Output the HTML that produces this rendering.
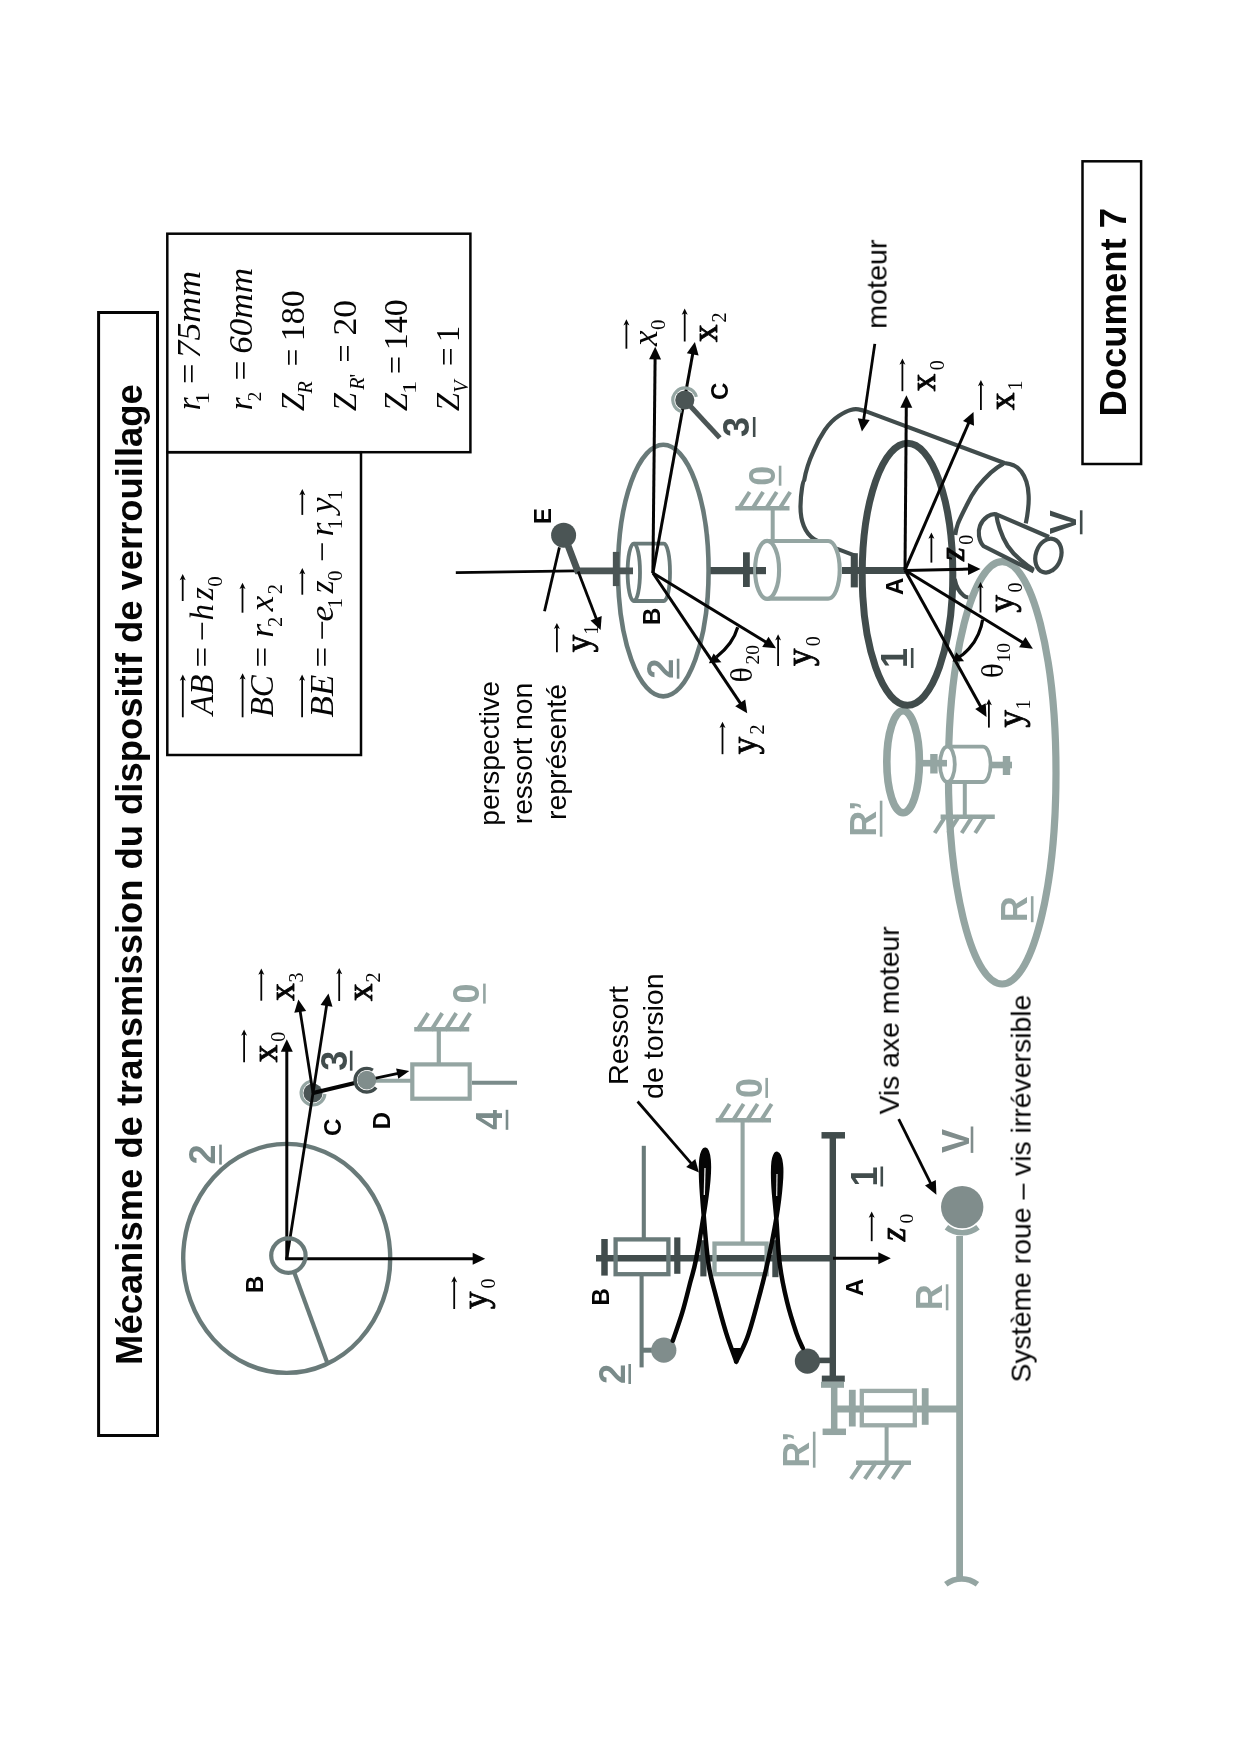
<!DOCTYPE html>
<html><head><meta charset="utf-8"><title>Document 7</title>
<style>html,body{margin:0;padding:0;background:#fff}svg{display:block}</style></head>
<body><svg width="1240" height="1754" viewBox="0 0 1240 1754">
<rect width="1240" height="1754" fill="#ffffff"/>
<g style="opacity:0.999">
<rect x="98.6" y="312.5" width="58.9" height="1123.0" stroke="#050505" stroke-width="3.0" fill="none"/>
<text transform="translate(142.2,1364.9) rotate(-90)" font-family='"Liberation Sans", sans-serif' font-size="36.4" font-weight="bold" font-style="normal" fill="#050505" textLength="980.7" lengthAdjust="spacingAndGlyphs" >Mécanisme de transmission du dispositif de verrouillage</text>
<rect x="1082.5" y="161.3" width="58.6" height="302.7" stroke="#050505" stroke-width="2.5" fill="none"/>
<text transform="translate(1126.2,416.5) rotate(-90)" font-family='"Liberation Sans", sans-serif' font-size="36" font-weight="bold" font-style="normal" fill="#050505" textLength="208.6" lengthAdjust="spacingAndGlyphs" >Document 7</text>
<rect x="167.3" y="233.7" width="303.1" height="218.5" stroke="#050505" stroke-width="2.5" fill="none"/>
<rect x="167.3" y="452.2" width="193.7" height="302.8" stroke="#050505" stroke-width="2.5" fill="none"/>
<g transform="translate(199.6,408.5) rotate(-90)" font-family='"Liberation Serif", serif' fill="#050505"><text x="-1.8" y="0.0" font-size="33" font-style="italic">r</text><text x="4.0" y="9.1" font-size="19" font-style="normal" textLength="12.5" lengthAdjust="spacingAndGlyphs">1</text><text x="24.4" y="0.0" font-size="33" font-style="normal" textLength="20.4" lengthAdjust="spacingAndGlyphs">=</text><text x="50.1" y="0.0" font-size="33" font-style="italic" textLength="87.4" lengthAdjust="spacingAndGlyphs">75mm</text></g>
<g transform="translate(251.7,408.5) rotate(-90)" font-family='"Liberation Serif", serif' fill="#050505"><text x="-1.8" y="0.0" font-size="33" font-style="italic">r</text><text x="7.2" y="9.1" font-size="19" font-style="normal">2</text><text x="28.0" y="0.0" font-size="33" font-style="normal" textLength="20.0" lengthAdjust="spacingAndGlyphs">=</text><text x="54.7" y="0.0" font-size="33" font-style="italic" textLength="85.8" lengthAdjust="spacingAndGlyphs">60mm</text></g>
<g transform="translate(303.8,410.3) rotate(-90)" font-family='"Liberation Serif", serif' fill="#050505"><text x="-1.0" y="0.0" font-size="33" font-style="italic">Z</text><text x="16.8" y="8.5" font-size="20" font-style="italic">R</text><text x="44.0" y="0.0" font-size="33" font-style="normal" textLength="17.5" lengthAdjust="spacingAndGlyphs">=</text><text x="69.1" y="0.0" font-size="33" font-style="normal" textLength="50.8" lengthAdjust="spacingAndGlyphs">180</text></g>
<g transform="translate(355.7,410.3) rotate(-90)" font-family='"Liberation Serif", serif' fill="#050505"><text x="-1.0" y="0.0" font-size="33" font-style="italic">Z</text><text x="20.6" y="8.5" font-size="20" font-style="italic">R</text><text x="32.7" y="8.5" font-size="20" font-style="normal">'</text><text x="47.8" y="0.0" font-size="33" font-style="normal" textLength="18.0" lengthAdjust="spacingAndGlyphs">=</text><text x="74.7" y="0.0" font-size="33" font-style="normal" textLength="35.7" lengthAdjust="spacingAndGlyphs">20</text></g>
<g transform="translate(407.1,410.3) rotate(-90)" font-family='"Liberation Serif", serif' fill="#050505"><text x="-1.0" y="0.0" font-size="33" font-style="italic">Z</text><text x="16.0" y="9.1" font-size="19" font-style="normal" textLength="13.5" lengthAdjust="spacingAndGlyphs">1</text><text x="36.3" y="0.0" font-size="33" font-style="normal" textLength="18.0" lengthAdjust="spacingAndGlyphs">=</text><text x="60.1" y="0.0" font-size="33" font-style="normal" textLength="50.8" lengthAdjust="spacingAndGlyphs">140</text></g>
<g transform="translate(459.1,410.3) rotate(-90)" font-family='"Liberation Serif", serif' fill="#050505"><text x="-1.0" y="0.0" font-size="33" font-style="italic">Z</text><text x="17.6" y="8.5" font-size="20" font-style="italic">V</text><text x="44.1" y="0.0" font-size="33" font-style="normal" textLength="18.8" lengthAdjust="spacingAndGlyphs">=</text><text x="68.0" y="0.0" font-size="33" font-style="normal">1</text></g>
<g transform="translate(213.0,716.0) rotate(-90)" font-family='"Liberation Serif", serif' fill="#050505"><text x="1.0" y="0.0" font-size="33" font-style="italic">AB</text><text x="48.6" y="0.0" font-size="33" font-style="normal" textLength="20.7" lengthAdjust="spacingAndGlyphs">=</text><text x="74.7" y="0.0" font-size="33" font-style="normal" textLength="20.3" lengthAdjust="spacingAndGlyphs">−</text><text x="95.5" y="0.0" font-size="33" font-style="italic">h</text><text x="116.0" y="0.0" font-size="33" font-style="italic">z</text><text x="129.2" y="9.4" font-size="21" font-style="normal">0</text></g>
<g transform="translate(273.3,716.0) rotate(-90)" font-family='"Liberation Serif", serif' fill="#050505"><text x="-1.3" y="0.0" font-size="33" font-style="italic">BC</text><text x="48.6" y="0.0" font-size="33" font-style="normal" textLength="20.7" lengthAdjust="spacingAndGlyphs">=</text><text x="78.2" y="0.0" font-size="33" font-style="italic" textLength="13.8" lengthAdjust="spacingAndGlyphs">r</text><text x="89.0" y="8.6" font-size="20.5" font-style="normal">2</text><text x="104.7" y="0.0" font-size="33" font-style="italic" textLength="15.5" lengthAdjust="spacingAndGlyphs">x</text><text x="121.8" y="8.6" font-size="20.5" font-style="normal">2</text></g>
<g transform="translate(333.1,716.0) rotate(-90)" font-family='"Liberation Serif", serif' fill="#050505"><text x="-1.5" y="0.0" font-size="33" font-style="italic" textLength="42.8" lengthAdjust="spacingAndGlyphs">BE</text><text x="48.6" y="0.0" font-size="33" font-style="normal" textLength="20.7" lengthAdjust="spacingAndGlyphs">=</text><text x="75.5" y="0.0" font-size="33" font-style="normal" textLength="20.4" lengthAdjust="spacingAndGlyphs">−</text><text x="94.5" y="0.0" font-size="33" font-style="italic" textLength="15.9" lengthAdjust="spacingAndGlyphs">e</text><text x="107.8" y="8.7" font-size="20.5" font-style="normal">1</text><text x="122.8" y="0.0" font-size="33" font-style="italic">z</text><text x="135.1" y="9.2" font-size="21" font-style="normal">0</text><text x="154.1" y="0.0" font-size="33" font-style="normal" textLength="20.4" lengthAdjust="spacingAndGlyphs">−</text><text x="179.4" y="0.0" font-size="33" font-style="italic" textLength="13.8" lengthAdjust="spacingAndGlyphs">r</text><text x="186.7" y="8.7" font-size="20.5" font-style="normal">1</text><text x="203.1" y="0.0" font-size="33" font-style="italic" textLength="15.6" lengthAdjust="spacingAndGlyphs">y</text><text x="215.8" y="8.7" font-size="20.5" font-style="normal">1</text></g>
<line x1="182.8" y1="717.3" x2="182.8" y2="677.5" stroke="#050505" stroke-width="1.8" stroke-linecap="butt"/>
<polygon points="182.8,674.5 179.8,680.8 182.8,679.3 185.8,680.8" fill="#050505"/>
<line x1="242.6" y1="717.3" x2="242.6" y2="676.3" stroke="#050505" stroke-width="1.8" stroke-linecap="butt"/>
<polygon points="242.6,673.3 239.6,679.6 242.6,678.1 245.6,679.6" fill="#050505"/>
<line x1="302.1" y1="717.3" x2="302.1" y2="677.5" stroke="#050505" stroke-width="1.8" stroke-linecap="butt"/>
<polygon points="302.1,674.5 299.1,680.8 302.1,679.3 305.1,680.8" fill="#050505"/>
<line x1="182.7" y1="601.0" x2="182.7" y2="577.0" stroke="#050505" stroke-width="1.8" stroke-linecap="butt"/>
<polygon points="182.7,574.0 179.7,580.3 182.7,578.8 185.7,580.3" fill="#050505"/>
<line x1="242.5" y1="612.7" x2="242.5" y2="585.7" stroke="#050505" stroke-width="1.8" stroke-linecap="butt"/>
<polygon points="242.5,582.7 239.5,589.0 242.5,587.5 245.5,589.0" fill="#050505"/>
<line x1="302.3" y1="594.7" x2="302.3" y2="571.0" stroke="#050505" stroke-width="1.8" stroke-linecap="butt"/>
<polygon points="302.3,568.0 299.3,574.3 302.3,572.8 305.3,574.3" fill="#050505"/>
<line x1="302.3" y1="514.9" x2="302.3" y2="492.0" stroke="#050505" stroke-width="1.8" stroke-linecap="butt"/>
<polygon points="302.3,489.0 299.3,495.3 302.3,493.8 305.3,495.3" fill="#050505"/>
<ellipse cx="286.7" cy="1258.4" rx="103.5" ry="114.5" stroke="#697a79" stroke-width="4.4" fill="none"/>
<line x1="294.3" y1="1272.5" x2="327.0" y2="1362.0" stroke="#697a79" stroke-width="4.2" stroke-linecap="butt"/>
<line x1="286.8" y1="1260.1" x2="286.8" y2="1050.7" stroke="#050505" stroke-width="3.0"/>
<polygon points="286.8,1039.2 292.8,1051.7 280.8,1051.7" fill="#050505"/>
<line x1="285.3" y1="1258.7" x2="473.7" y2="1258.7" stroke="#050505" stroke-width="3.0"/>
<polygon points="485.2,1258.7 472.7,1264.7 472.7,1252.7" fill="#050505"/>
<path d="M 324.9 1094.0 A 11.9 11.9 0 1 1 310.9 1081.3" stroke="#94a5a2" stroke-width="3.2" fill="none" />
<circle cx="313.0" cy="1093.0" r="9.6" fill="#4b5555" stroke="none" stroke-width="0"/>
<line x1="286.8" y1="1258.7" x2="313.0" y2="1093.0" stroke="#050505" stroke-width="2.8" stroke-linecap="butt"/>
<line x1="313.0" y1="1093.0" x2="326.7" y2="1004.9" stroke="#050505" stroke-width="2.8"/>
<polygon points="328.5,993.5 332.5,1006.8 320.6,1004.9" fill="#050505"/>
<line x1="313.0" y1="1093.0" x2="300.1" y2="1010.9" stroke="#050505" stroke-width="2.8"/>
<polygon points="298.3,999.5 306.2,1010.9 294.3,1012.8" fill="#050505"/>
<circle cx="288.4" cy="1255.6" r="17.2" fill="none" stroke="#697a79" stroke-width="4.2"/>
<line x1="374.0" y1="1080.8" x2="412.0" y2="1080.8" stroke="#94a5a2" stroke-width="4" stroke-linecap="butt"/>
<line x1="313.0" y1="1093.0" x2="356.8" y2="1082.5" stroke="#050505" stroke-width="4.2" stroke-linecap="butt"/>
<path d="M 372.9 1070.1 A 11.8 11.8 0 1 0 376.1 1087.5" stroke="#414c4c" stroke-width="3.4" fill="none" />
<circle cx="366.8" cy="1080.2" r="9.4" fill="#808d8c" stroke="none" stroke-width="0"/>
<line x1="375.8" y1="1078.2" x2="398.2" y2="1073.4" stroke="#050505" stroke-width="2.8"/>
<polygon points="409.3,1071.0 398.3,1078.8 396.1,1068.4" fill="#050505"/>
<rect x="412.3" y="1064.4" width="57.4" height="34.3" stroke="#94a5a2" stroke-width="4.2" fill="none"/>
<line x1="472.0" y1="1082.7" x2="517.0" y2="1082.7" stroke="#7a8b8a" stroke-width="4.1" stroke-linecap="butt"/>
<line x1="438.8" y1="1063.0" x2="438.8" y2="1030.0" stroke="#94a5a2" stroke-width="4.2" stroke-linecap="butt"/>
<line x1="414.2" y1="1029.3" x2="469.2" y2="1029.3" stroke="#94a5a2" stroke-width="4.6" stroke-linecap="butt"/>
<line x1="417.2" y1="1030.3" x2="428.2" y2="1013.1" stroke="#94a5a2" stroke-width="4.0" stroke-linecap="butt"/>
<line x1="431.2" y1="1030.3" x2="442.2" y2="1013.1" stroke="#94a5a2" stroke-width="4.0" stroke-linecap="butt"/>
<line x1="445.2" y1="1030.3" x2="456.2" y2="1013.1" stroke="#94a5a2" stroke-width="4.0" stroke-linecap="butt"/>
<line x1="459.2" y1="1030.3" x2="470.2" y2="1013.1" stroke="#94a5a2" stroke-width="4.0" stroke-linecap="butt"/>
<g transform="translate(215.3,1164.6) rotate(-90)"><text font-family='"Liberation Sans", sans-serif' font-size="36" font-weight="bold" fill="#7a8b8a">2</text><rect x="0" y="3.9" width="20.0" height="2.6" fill="#7a8b8a"/></g>
<g transform="translate(346.5,1070.7) rotate(-90)"><text font-family='"Liberation Sans", sans-serif' font-size="36" font-weight="bold" fill="#414c4c">3</text><rect x="0" y="3.4" width="20.0" height="2.6" fill="#414c4c"/></g>
<g transform="translate(479.4,1003.6) rotate(-90)"><text font-family='"Liberation Sans", sans-serif' font-size="36" font-weight="bold" fill="#94a5a2">0</text><rect x="0" y="3.7" width="20.0" height="2.6" fill="#94a5a2"/></g>
<g transform="translate(501.8,1129.8) rotate(-90)"><text font-family='"Liberation Sans", sans-serif' font-size="36" font-weight="bold" fill="#7a8b8a">4</text><rect x="0" y="3.9" width="20.0" height="2.6" fill="#7a8b8a"/></g>
<text transform="translate(262.5,1293.0) rotate(-90)" font-family='"Liberation Sans", sans-serif' font-size="24" font-weight="bold" font-style="normal" fill="#050505" >B</text>
<text transform="translate(340.8,1136.0) rotate(-90)" font-family='"Liberation Sans", sans-serif' font-size="24" font-weight="bold" font-style="normal" fill="#050505" >C</text>
<text transform="translate(390.0,1129.2) rotate(-90)" font-family='"Liberation Sans", sans-serif' font-size="24" font-weight="bold" font-style="normal" fill="#050505" >D</text>
<g transform="translate(276.9,1062.3) rotate(-90)"><text font-family='"Liberation Serif", serif' font-size="35" font-weight="normal" font-style="normal" fill="#050505" stroke="#050505" stroke-width="0.9" stroke-linejoin="round">x</text><text x="20.5" y="8" font-family='"Liberation Serif", serif' font-size="20" fill="#050505">0</text><line x1="0.0" y1="-32.8" x2="29.8" y2="-32.8" stroke="#050505" stroke-width="1.8"/><polygon points="32.8,-32.8 26.6,-35.8 28.2,-32.8 26.6,-29.799999999999997" fill="#050505"/></g>
<g transform="translate(294.0,1000.7) rotate(-90)"><text font-family='"Liberation Serif", serif' font-size="35" font-weight="normal" font-style="normal" fill="#050505" stroke="#050505" stroke-width="0.9" stroke-linejoin="round">x</text><text x="18.2" y="9.1" font-family='"Liberation Serif", serif' font-size="20" fill="#050505">3</text><line x1="0.0" y1="-32.7" x2="29.1" y2="-32.7" stroke="#050505" stroke-width="1.8"/><polygon points="32.1,-32.7 25.9,-35.7 27.5,-32.7 25.9,-29.700000000000003" fill="#050505"/></g>
<g transform="translate(371.9,1001.0) rotate(-90)"><text font-family='"Liberation Serif", serif' font-size="35" font-weight="normal" font-style="normal" fill="#050505" stroke="#050505" stroke-width="0.9" stroke-linejoin="round">x</text><text x="18.6" y="8.5" font-family='"Liberation Serif", serif' font-size="20" fill="#050505">2</text><line x1="0.0" y1="-32.7" x2="29.9" y2="-32.7" stroke="#050505" stroke-width="1.8"/><polygon points="32.9,-32.7 26.7,-35.7 28.3,-32.7 26.7,-29.700000000000003" fill="#050505"/></g>
<g transform="translate(487.0,1309.0) rotate(-90)"><text font-family='"Liberation Serif", serif' font-size="35" font-weight="normal" font-style="normal" fill="#050505" stroke="#050505" stroke-width="0.9" stroke-linejoin="round">y</text><text x="20.5" y="8" font-family='"Liberation Serif", serif' font-size="20" fill="#050505">0</text><line x1="0.0" y1="-32.8" x2="29.8" y2="-32.8" stroke="#050505" stroke-width="1.8"/><polygon points="32.8,-32.8 26.6,-35.8 28.2,-32.8 26.6,-29.799999999999997" fill="#050505"/></g>
<ellipse cx="1002.2" cy="772.8" rx="53.8" ry="211.2" stroke="#94a5a2" stroke-width="7.2" fill="none"/>
<ellipse cx="903.1" cy="761.8" rx="16.3" ry="51.0" stroke="#94a5a2" stroke-width="7.6" fill="none"/>
<line x1="919.0" y1="763.2" x2="946.0" y2="763.2" stroke="#94a5a2" stroke-width="6.6" stroke-linecap="butt"/>
<line x1="933.9" y1="754.0" x2="933.9" y2="773.5" stroke="#94a5a2" stroke-width="7.4" stroke-linecap="butt"/>
<path d="M 947.4 746.6 L 983 746.6 A 7.6 17.7 0 0 1 983 782 L 947.4 782" stroke="#94a5a2" stroke-width="3.8" fill="#fff" />
<ellipse cx="947.4" cy="764.3" rx="7.4" ry="17.7" stroke="#94a5a2" stroke-width="3.8" fill="#fff"/>
<line x1="940.0" y1="763.2" x2="947.0" y2="763.2" stroke="#94a5a2" stroke-width="6.6" stroke-linecap="butt"/>
<line x1="992.0" y1="765.0" x2="1012.0" y2="765.0" stroke="#94a5a2" stroke-width="6.6" stroke-linecap="butt"/>
<line x1="1006.5" y1="756.0" x2="1006.5" y2="775.0" stroke="#94a5a2" stroke-width="7.4" stroke-linecap="butt"/>
<line x1="964.8" y1="782.2" x2="964.8" y2="816.5" stroke="#94a5a2" stroke-width="4.0" stroke-linecap="butt"/>
<line x1="940.6" y1="816.8" x2="994.8" y2="816.8" stroke="#94a5a2" stroke-width="4.6" stroke-linecap="butt"/>
<line x1="945.7" y1="815.8" x2="934.7" y2="833.0" stroke="#94a5a2" stroke-width="4.0" stroke-linecap="butt"/>
<line x1="959.2" y1="815.8" x2="948.2" y2="833.0" stroke="#94a5a2" stroke-width="4.0" stroke-linecap="butt"/>
<line x1="972.7" y1="815.8" x2="961.7" y2="833.0" stroke="#94a5a2" stroke-width="4.0" stroke-linecap="butt"/>
<line x1="986.2" y1="815.8" x2="975.2" y2="833.0" stroke="#94a5a2" stroke-width="4.0" stroke-linecap="butt"/>
<path d="M 855 555.6 L 838.5 549.4 C 829 546 820 542.5 814 539 C 805 533.5 800.3 521 800.5 506 C 800.8 492 803 481 804.2 480.3 C 806 470 809 461 813.2 451.9 C 816 445 820 437 824.8 430 C 829 424 834 419 839 415.8 C 844 412.5 847 411 850.6 410 C 854 409 856 409 858.4 409.4 C 861 409.8 864 410.6 867.4 411.9 L 1004.4 463 C 1008 463.6 1011 464.2 1013.4 465.2 C 1017 466.8 1019.5 469 1021.3 471.5 C 1023.5 474.5 1025.3 478 1026.4 481.6 C 1027.8 486 1028.4 490 1028.6 495.2 C 1028.9 500 1028.6 505 1028 509.8 C 1027.5 514.5 1026.8 519 1025.8 523.4" stroke="#414c4c" stroke-width="4.2" fill="none" stroke-linejoin="round"/>
<path d="M 1003.5 463.6 C 999 466 995 469 990.8 472.6 C 986 477 981.5 482 977.3 487.3 C 973 493 969.3 499.5 966 506.5 C 963 512.5 960.2 518 958 523.4 C 956.5 527.5 955.7 531 955.2 535" stroke="#414c4c" stroke-width="4.2" fill="none" />
<path d="M 954.6 579 C 955.4 583 956.5 586.3 958 588.9 C 959.6 591.7 961.5 594 963.7 595.6 C 965 596.6 966.3 597.1 968.2 597.5" stroke="#414c4c" stroke-width="4.2" fill="none" />
<path d="M 1049 537 L 996.5 514.4 C 993 513.6 990 514.8 987.4 516.6 C 984 519 981.6 522 980.1 525.6 C 978.8 529 978.4 532.5 979 535.8 C 979.7 540 981 543.5 983.5 546 L 1033.7 571.4" stroke="#414c4c" stroke-width="4.2" fill="none" />
<path d="M 996.5 515.5 C 997 520 998.2 524.5 999.8 529 C 1001.8 535 1004.3 540.8 1007.7 546 C 1011.5 551.7 1016 556.5 1021.3 560.6 C 1025 563.8 1029 567 1033.7 569.7" stroke="#414c4c" stroke-width="4.2" fill="none" />
<ellipse cx="1048.4" cy="555.6" rx="12.6" ry="17.3" stroke="#414c4c" stroke-width="4.2" fill="#fff" transform="rotate(18.7 1048.4 555.6)"/>
<ellipse cx="907.5" cy="574.3" rx="45.3" ry="131.0" stroke="#414c4c" stroke-width="7.0" fill="none"/>
<ellipse cx="663.3" cy="570.6" rx="45.3" ry="125.8" stroke="#697a79" stroke-width="4.6" fill="none"/>
<path d="M 633.8 543.6 L 663.9 543.6 A 6.1 28.7 0 0 1 663.9 601 L 633.8 601" stroke="#697a79" stroke-width="3.8" fill="none" />
<ellipse cx="633.8" cy="572.3" rx="6.2" ry="28.7" stroke="#697a79" stroke-width="3.8" fill="none"/>
<line x1="455.8" y1="572.6" x2="575.0" y2="570.9" stroke="#050505" stroke-width="2.8" stroke-linecap="butt"/>
<line x1="559.4" y1="547.4" x2="544.5" y2="611.3" stroke="#050505" stroke-width="2.8" stroke-linecap="butt"/>
<path d="M 568.2 546 L 577.6 570.8 L 633 570.8" stroke="#4b5555" stroke-width="6.8" fill="none" stroke-linejoin="miter"/>
<line x1="616.1" y1="551.9" x2="616.1" y2="586.1" stroke="#4b5555" stroke-width="6.5" stroke-linecap="butt"/>
<circle cx="563.6" cy="535.2" r="12.5" fill="#4b5555" stroke="none" stroke-width="0"/>
<line x1="578.2" y1="571.5" x2="596.5" y2="619.2" stroke="#050505" stroke-width="2.8"/>
<polygon points="600.6,629.9 590.5,620.4 601.7,616.1" fill="#050505"/>
<line x1="710.5" y1="570.6" x2="757.0" y2="570.6" stroke="#414c4c" stroke-width="7.2" stroke-linecap="butt"/>
<line x1="746.4" y1="552.3" x2="746.4" y2="587.0" stroke="#414c4c" stroke-width="6.8" stroke-linecap="butt"/>
<path d="M 767.1 541 L 828.2 541 A 11.5 28.8 0 0 1 828.2 598.6 L 767.1 598.6" stroke="#94a5a2" stroke-width="4.1" fill="#fff" />
<ellipse cx="767.1" cy="569.9" rx="12.0" ry="29.0" stroke="#94a5a2" stroke-width="4.1" fill="#fff"/>
<line x1="756.0" y1="570.6" x2="766.0" y2="570.6" stroke="#414c4c" stroke-width="7.2" stroke-linecap="butt"/>
<line x1="772.7" y1="541.0" x2="772.7" y2="508.7" stroke="#94a5a2" stroke-width="4.0" stroke-linecap="butt"/>
<line x1="735.3" y1="508.2" x2="789.5" y2="508.2" stroke="#94a5a2" stroke-width="4.6" stroke-linecap="butt"/>
<line x1="738.6" y1="509.2" x2="749.6" y2="492.0" stroke="#94a5a2" stroke-width="4.0" stroke-linecap="butt"/>
<line x1="752.1" y1="509.2" x2="763.1" y2="492.0" stroke="#94a5a2" stroke-width="4.0" stroke-linecap="butt"/>
<line x1="765.7" y1="509.2" x2="776.7" y2="492.0" stroke="#94a5a2" stroke-width="4.0" stroke-linecap="butt"/>
<line x1="779.2" y1="509.2" x2="790.2" y2="492.0" stroke="#94a5a2" stroke-width="4.0" stroke-linecap="butt"/>
<line x1="842.0" y1="570.4" x2="905.0" y2="570.4" stroke="#414c4c" stroke-width="7.0" stroke-linecap="butt"/>
<line x1="854.3" y1="553.2" x2="854.3" y2="587.4" stroke="#414c4c" stroke-width="7.1" stroke-linecap="butt"/>
<line x1="652.9" y1="573.0" x2="655.1" y2="358.3" stroke="#050505" stroke-width="3.0"/>
<polygon points="655.2,346.8 661.1,359.4 649.1,359.2" fill="#050505"/>
<line x1="652.9" y1="573.0" x2="692.8" y2="353.4" stroke="#050505" stroke-width="3.0"/>
<polygon points="694.9,342.1 698.6,355.5 686.8,353.3" fill="#050505"/>
<line x1="652.9" y1="573.0" x2="766.2" y2="642.3" stroke="#050505" stroke-width="3.0"/>
<polygon points="776.0,648.3 762.2,646.9 768.5,636.7" fill="#050505"/>
<line x1="652.9" y1="573.0" x2="740.8" y2="703.8" stroke="#050505" stroke-width="3.0"/>
<polygon points="747.2,713.3 735.2,706.3 745.2,699.6" fill="#050505"/>
<path d="M 681.7 411.6 A 12.0 12.0 0 1 1 696.4 396.9" stroke="#94a5a2" stroke-width="3.2" fill="none" />
<line x1="690.5" y1="406.3" x2="719.8" y2="437.9" stroke="#4b5555" stroke-width="5.0" stroke-linecap="butt"/>
<circle cx="684.8" cy="400.0" r="9.6" fill="#4b5555" stroke="none" stroke-width="0"/>
<path d="M 737.7 627.3 Q 733 644 716.5 657" stroke="#050505" stroke-width="3.2" fill="none" />
<polygon points="708.9,663.2 713.6,653.6 721.4,662.2" fill="#050505"/>
<line x1="905.0" y1="570.2" x2="906.3" y2="406.7" stroke="#050505" stroke-width="3.0"/>
<polygon points="906.4,395.2 912.3,407.7 900.3,407.7" fill="#050505"/>
<line x1="905.0" y1="570.2" x2="968.9" y2="422.5" stroke="#050505" stroke-width="3.0"/>
<polygon points="973.5,411.9 974.0,425.8 963.0,421.0" fill="#050505"/>
<line x1="905.0" y1="570.4" x2="969.0" y2="569.1" stroke="#050505" stroke-width="3.0"/>
<polygon points="980.5,568.9 968.1,575.1 967.9,563.1" fill="#050505"/>
<line x1="905.0" y1="570.2" x2="1023.1" y2="642.7" stroke="#050505" stroke-width="3.0"/>
<polygon points="1032.9,648.7 1019.1,647.3 1025.4,637.0" fill="#050505"/>
<line x1="905.0" y1="570.2" x2="980.9" y2="706.9" stroke="#050505" stroke-width="3.0"/>
<polygon points="986.5,717.0 975.2,709.0 985.7,703.2" fill="#050505"/>
<path d="M 982.6 619.7 C 981.5 628 977 640 969 648.7 C 966 652 963 654.5 959.5 657" stroke="#050505" stroke-width="3.2" fill="none" />
<polygon points="952.6,661.5 956.3,652.2 964.1,661.2" fill="#050505"/>
<line x1="874.8" y1="343.9" x2="863.6" y2="420.1" stroke="#050505" stroke-width="2.8"/>
<polygon points="861.9,431.5 857.8,418.3 869.7,420.0" fill="#050505"/>
<text transform="translate(550.5,524.0) rotate(-90)" font-family='"Liberation Sans", sans-serif' font-size="24" font-weight="bold" font-style="normal" fill="#050505" >E</text>
<text transform="translate(660.0,625.0) rotate(-90)" font-family='"Liberation Sans", sans-serif' font-size="24" font-weight="bold" font-style="normal" fill="#050505" >B</text>
<text transform="translate(727.5,400.0) rotate(-90)" font-family='"Liberation Sans", sans-serif' font-size="24" font-weight="bold" font-style="normal" fill="#050505" >C</text>
<text transform="translate(903.0,595.0) rotate(-90)" font-family='"Liberation Sans", sans-serif' font-size="24" font-weight="bold" font-style="normal" fill="#050505" >A</text>
<g transform="translate(672.9,678.7) rotate(-90)"><text font-family='"Liberation Sans", sans-serif' font-size="36" font-weight="bold" fill="#7a8b8a">2</text><rect x="0" y="3.9" width="20.0" height="2.6" fill="#7a8b8a"/></g>
<g transform="translate(749.0,437.0) rotate(-90)"><text font-family='"Liberation Sans", sans-serif' font-size="36" font-weight="bold" fill="#414c4c">3</text><rect x="0" y="3.9" width="20.0" height="2.6" fill="#414c4c"/></g>
<g transform="translate(775.1,485.7) rotate(-90)"><text font-family='"Liberation Sans", sans-serif' font-size="36" font-weight="bold" fill="#94a5a2">0</text><rect x="0" y="3.7" width="20.0" height="2.6" fill="#94a5a2"/></g>
<g transform="translate(907.0,668.0) rotate(-90)"><text font-family='"Liberation Sans", sans-serif' font-size="36" font-weight="bold" fill="#414c4c">1</text><rect x="0" y="3.9" width="20.0" height="2.6" fill="#414c4c"/></g>
<g transform="translate(1076.0,534.3) rotate(-90)"><text font-family='"Liberation Sans", sans-serif' font-size="36" font-weight="bold" fill="#414c4c">V</text><rect x="0" y="3.9" width="24.0" height="2.6" fill="#414c4c"/></g>
<g transform="translate(875.9,836.7) rotate(-90)"><text font-family='"Liberation Sans", sans-serif' font-size="36" font-weight="bold" fill="#94a5a2">R’</text><rect x="0" y="3.9" width="36.0" height="2.6" fill="#94a5a2"/></g>
<g transform="translate(1027.0,922.2) rotate(-90)"><text font-family='"Liberation Sans", sans-serif' font-size="36" font-weight="bold" fill="#94a5a2">R</text><rect x="0" y="3.9" width="26.0" height="2.6" fill="#94a5a2"/></g>
<g transform="translate(656.6,345.9) rotate(-90)"><text font-family='"Liberation Serif", serif' font-size="35" font-weight="normal" font-style="italic" fill="#050505" >x</text><text x="16.0" y="8.7" font-family='"Liberation Serif", serif' font-size="21" fill="#050505">0</text><line x1="-2.8" y1="-30.2" x2="23.7" y2="-30.2" stroke="#050505" stroke-width="1.8"/><polygon points="26.7,-30.2 20.5,-33.2 22.1,-30.2 20.5,-27.2" fill="#050505"/></g>
<g transform="translate(717.1,342.1) rotate(-90)"><text font-family='"Liberation Serif", serif' font-size="35" font-weight="normal" font-style="normal" fill="#050505" stroke="#050505" stroke-width="0.9" stroke-linejoin="round">x</text><text x="19.7" y="9.2" font-family='"Liberation Serif", serif' font-size="20" fill="#050505">2</text><line x1="0.6" y1="-32.4" x2="30.5" y2="-32.4" stroke="#050505" stroke-width="1.8"/><polygon points="33.5,-32.4 27.3,-35.4 28.9,-32.4 27.3,-29.4" fill="#050505"/></g>
<g transform="translate(590.2,652.2) rotate(-90)"><text font-family='"Liberation Serif", serif' font-size="35" font-weight="normal" font-style="normal" fill="#050505" stroke="#050505" stroke-width="0.9" stroke-linejoin="round">y</text><text x="17.4" y="7.9" font-family='"Liberation Serif", serif' font-size="20" fill="#050505">1</text><line x1="0.0" y1="-33.3" x2="26.3" y2="-33.3" stroke="#050505" stroke-width="1.8"/><polygon points="29.3,-33.3 23.1,-36.3 24.7,-33.3 23.1,-30.299999999999997" fill="#050505"/></g>
<g transform="translate(811.1,666.1) rotate(-90)"><text font-family='"Liberation Serif", serif' font-size="35" font-weight="normal" font-style="normal" fill="#050505" stroke="#050505" stroke-width="0.9" stroke-linejoin="round">y</text><text x="19.9" y="8.4" font-family='"Liberation Serif", serif' font-size="20" fill="#050505">0</text><line x1="0.0" y1="-33" x2="28.9" y2="-33" stroke="#050505" stroke-width="1.8"/><polygon points="31.9,-33 25.7,-36 27.3,-33 25.7,-30" fill="#050505"/></g>
<g transform="translate(756.1,754.2) rotate(-90)"><text font-family='"Liberation Serif", serif' font-size="35" font-weight="normal" font-style="normal" fill="#050505" stroke="#050505" stroke-width="0.9" stroke-linejoin="round">y</text><text x="19.8" y="7.9" font-family='"Liberation Serif", serif' font-size="20" fill="#050505">2</text><line x1="0.0" y1="-33.6" x2="29.5" y2="-33.6" stroke="#050505" stroke-width="1.8"/><polygon points="32.5,-33.6 26.3,-36.6 27.9,-33.6 26.3,-30.6" fill="#050505"/></g>
<g transform="translate(935.2,391.2) rotate(-90)"><text font-family='"Liberation Serif", serif' font-size="35" font-weight="normal" font-style="normal" fill="#050505" stroke="#050505" stroke-width="0.9" stroke-linejoin="round">x</text><text x="20.9" y="8.4" font-family='"Liberation Serif", serif' font-size="20" fill="#050505">0</text><line x1="0.0" y1="-32.8" x2="29.7" y2="-32.8" stroke="#050505" stroke-width="1.8"/><polygon points="32.7,-32.8 26.5,-35.8 28.1,-32.8 26.5,-29.799999999999997" fill="#050505"/></g>
<g transform="translate(1014.2,409.9) rotate(-90)"><text font-family='"Liberation Serif", serif' font-size="35" font-weight="normal" font-style="normal" fill="#050505" stroke="#050505" stroke-width="0.9" stroke-linejoin="round">x</text><text x="19.3" y="7.9" font-family='"Liberation Serif", serif' font-size="20" fill="#050505">1</text><line x1="0.0" y1="-33.3" x2="26.9" y2="-33.3" stroke="#050505" stroke-width="1.8"/><polygon points="29.9,-33.3 23.7,-36.3 25.3,-33.3 23.7,-30.299999999999997" fill="#050505"/></g>
<g transform="translate(964.0,561.1) rotate(-90)"><text font-family='"Liberation Serif", serif' font-size="35" font-weight="normal" font-style="italic" fill="#050505" stroke="#050505" stroke-width="0.9" stroke-linejoin="round">z</text><text x="16.4" y="8.8" font-family='"Liberation Serif", serif' font-size="20" fill="#050505">0</text><line x1="-1.5" y1="-32.6" x2="25.5" y2="-32.6" stroke="#050505" stroke-width="1.8"/><polygon points="28.5,-32.6 22.3,-35.6 23.9,-32.6 22.3,-29.6" fill="#050505"/></g>
<g transform="translate(1013.4,612.5) rotate(-90)"><text font-family='"Liberation Serif", serif' font-size="35" font-weight="normal" font-style="normal" fill="#050505" stroke="#050505" stroke-width="0.9" stroke-linejoin="round">y</text><text x="19.9" y="8.2" font-family='"Liberation Serif", serif' font-size="20" fill="#050505">0</text><line x1="0.0" y1="-32.9" x2="27.4" y2="-32.9" stroke="#050505" stroke-width="1.8"/><polygon points="30.4,-32.9 24.2,-35.9 25.8,-32.9 24.2,-29.9" fill="#050505"/></g>
<g transform="translate(1022.3,727.6) rotate(-90)"><text font-family='"Liberation Serif", serif' font-size="35" font-weight="normal" font-style="normal" fill="#050505" stroke="#050505" stroke-width="0.9" stroke-linejoin="round">y</text><text x="18.1" y="7.7" font-family='"Liberation Serif", serif' font-size="20" fill="#050505">1</text><line x1="0.0" y1="-33.4" x2="25.5" y2="-33.4" stroke="#050505" stroke-width="1.8"/><polygon points="28.5,-33.4 22.3,-36.4 23.9,-33.4 22.3,-30.4" fill="#050505"/></g>
<g transform="translate(751.6,682.4) rotate(-90)"><text font-family='"Liberation Serif", serif' font-size="32" fill="#050505">θ</text><text x="17.8" y="7" font-family='"Liberation Serif", serif' font-size="19.5" fill="#050505">20</text></g>
<g transform="translate(1002.6,678.3) rotate(-90)"><text font-family='"Liberation Serif", serif' font-size="31.5" fill="#050505">θ</text><text x="15.8" y="7.6" font-family='"Liberation Serif", serif' font-size="19.5" fill="#050505">10</text></g>
<line x1="643.8" y1="1145.8" x2="643.8" y2="1239.0" stroke="#697a79" stroke-width="4.1" stroke-linecap="butt"/>
<line x1="641.6" y1="1275.0" x2="641.6" y2="1367.4" stroke="#697a79" stroke-width="4.1" stroke-linecap="butt"/>
<line x1="641.6" y1="1350.2" x2="656.0" y2="1350.2" stroke="#697a79" stroke-width="5.0" stroke-linecap="butt"/>
<circle cx="663.8" cy="1350.2" r="12.6" fill="#808d8c" stroke="none" stroke-width="0"/>
<line x1="742.6" y1="1121.0" x2="742.6" y2="1242.0" stroke="#94a5a2" stroke-width="4.1" stroke-linecap="butt"/>
<line x1="715.7" y1="1120.2" x2="771.0" y2="1120.2" stroke="#94a5a2" stroke-width="4.6" stroke-linecap="butt"/>
<line x1="718.6" y1="1121.2" x2="729.6" y2="1104.0" stroke="#94a5a2" stroke-width="4.0" stroke-linecap="butt"/>
<line x1="732.6" y1="1121.2" x2="743.6" y2="1104.0" stroke="#94a5a2" stroke-width="4.0" stroke-linecap="butt"/>
<line x1="746.6" y1="1121.2" x2="757.6" y2="1104.0" stroke="#94a5a2" stroke-width="4.0" stroke-linecap="butt"/>
<line x1="760.6" y1="1121.2" x2="771.6" y2="1104.0" stroke="#94a5a2" stroke-width="4.0" stroke-linecap="butt"/>
<line x1="596.0" y1="1258.2" x2="833.0" y2="1258.2" stroke="#414c4c" stroke-width="6.5" stroke-linecap="butt"/>
<rect x="615.6" y="1239.4" width="52.8" height="34.8" stroke="#697a79" stroke-width="4.3" fill="none"/>
<rect x="714.5" y="1243.6" width="52.1" height="30.6" stroke="#94a5a2" stroke-width="4.3" fill="none"/>
<line x1="604.5" y1="1239.0" x2="604.5" y2="1275.6" stroke="#414c4c" stroke-width="6.5" stroke-linecap="butt"/>
<line x1="677.3" y1="1237.4" x2="677.3" y2="1273.8" stroke="#414c4c" stroke-width="6.2" stroke-linecap="butt"/>
<line x1="703.4" y1="1240.2" x2="703.4" y2="1276.4" stroke="#414c4c" stroke-width="6.2" stroke-linecap="butt"/>
<line x1="775.4" y1="1240.2" x2="775.4" y2="1277.2" stroke="#414c4c" stroke-width="6.2" stroke-linecap="butt"/>
<line x1="832.8" y1="1133.0" x2="832.8" y2="1378.0" stroke="#414c4c" stroke-width="6.4" stroke-linecap="butt"/>
<line x1="821.5" y1="1135.3" x2="845.0" y2="1135.3" stroke="#414c4c" stroke-width="6.5" stroke-linecap="butt"/>
<line x1="818.0" y1="1360.4" x2="833.0" y2="1360.4" stroke="#414c4c" stroke-width="5.6" stroke-linecap="butt"/>
<circle cx="807.4" cy="1361.1" r="12.6" fill="#4b5555" stroke="none" stroke-width="0"/>
<line x1="821.8" y1="1378.7" x2="844.8" y2="1378.7" stroke="#414c4c" stroke-width="6.2" stroke-linecap="butt"/>
<line x1="833.0" y1="1258.2" x2="879.3" y2="1258.2" stroke="#050505" stroke-width="3.0"/>
<polygon points="890.8,1258.2 878.3,1264.2 878.3,1252.2" fill="#050505"/>
<line x1="821.0" y1="1384.8" x2="844.0" y2="1384.8" stroke="#94a5a2" stroke-width="6.0" stroke-linecap="butt"/>
<line x1="834.2" y1="1384.0" x2="834.2" y2="1432.0" stroke="#94a5a2" stroke-width="6.5" stroke-linecap="butt"/>
<line x1="822.6" y1="1431.8" x2="846.0" y2="1431.8" stroke="#94a5a2" stroke-width="6.5" stroke-linecap="butt"/>
<line x1="834.0" y1="1409.0" x2="960.0" y2="1409.0" stroke="#94a5a2" stroke-width="6.8" stroke-linecap="butt"/>
<line x1="852.3" y1="1389.8" x2="852.3" y2="1426.5" stroke="#94a5a2" stroke-width="6.8" stroke-linecap="butt"/>
<line x1="925.2" y1="1388.2" x2="925.2" y2="1424.8" stroke="#94a5a2" stroke-width="6.8" stroke-linecap="butt"/>
<rect x="861.8" y="1390.9" width="53.0" height="34.4" stroke="#9baaa7" stroke-width="4.3" fill="none"/>
<line x1="886.6" y1="1427.0" x2="886.6" y2="1462.8" stroke="#94a5a2" stroke-width="4.0" stroke-linecap="butt"/>
<line x1="856.1" y1="1462.7" x2="911.0" y2="1462.7" stroke="#94a5a2" stroke-width="4.6" stroke-linecap="butt"/>
<line x1="862.7" y1="1461.7" x2="850.9" y2="1478.9" stroke="#94a5a2" stroke-width="4.0" stroke-linecap="butt"/>
<line x1="876.6" y1="1461.7" x2="864.8" y2="1478.9" stroke="#94a5a2" stroke-width="4.0" stroke-linecap="butt"/>
<line x1="890.5" y1="1461.7" x2="878.7" y2="1478.9" stroke="#94a5a2" stroke-width="4.0" stroke-linecap="butt"/>
<line x1="904.4" y1="1461.7" x2="892.6" y2="1478.9" stroke="#94a5a2" stroke-width="4.0" stroke-linecap="butt"/>
<line x1="959.6" y1="1236.0" x2="959.6" y2="1578.0" stroke="#94a5a2" stroke-width="6.8" stroke-linecap="butt"/>
<path d="M 978.0 1227.3 A 25.6 25.6 0 0 1 946.4 1227.3" stroke="#94a5a2" stroke-width="5.6" fill="none" />
<path d="M 945.8 1584.3 A 25.6 25.6 0 0 1 977.4 1584.3" stroke="#94a5a2" stroke-width="5.6" fill="none" />
<circle cx="962.2" cy="1207.1" r="21.2" fill="#808d8c" stroke="none" stroke-width="0"/>
<path d="M 672.8 1340.7 C 674.4 1336.0 679.3 1322.4 682.3 1312.4 C 685.3 1302.5 688.3 1289.7 690.6 1281.0 C 692.9 1272.3 693.7 1271.0 695.9 1260.0 C 698.1 1249.0 701.6 1228.5 703.7 1215.2 C 705.8 1201.9 707.5 1189.2 708.3 1180.0 C 709.1 1170.8 709.1 1165.0 708.6 1160.0 C 708.1 1155.0 706.5 1150.1 705.3 1149.8 C 704.1 1149.5 702.3 1153.0 701.6 1158.0 C 700.9 1163.0 700.9 1170.5 701.2 1180.0 C 701.6 1189.5 702.5 1201.2 703.7 1215.2 C 704.9 1229.2 706.5 1250.8 708.5 1264.2 C 710.5 1277.6 712.8 1284.1 715.8 1295.6 C 718.8 1307.1 722.9 1322.4 726.3 1333.4 C 729.7 1344.4 734.6 1356.8 736.2 1361.5" stroke="#050505" stroke-width="4.5" fill="none" stroke-linejoin="round" stroke-linecap="round"/>
<path d="M 736.2 1361.5 C 738.1 1357.5 743.7 1347.5 747.3 1337.6 C 750.9 1327.7 754.4 1314.2 757.7 1302.0 C 761.0 1289.8 764.1 1278.1 767.2 1264.2 C 770.3 1250.3 774.1 1231.8 776.3 1218.4 C 778.5 1205.0 779.9 1193.1 780.6 1184.0 C 781.4 1174.9 781.4 1169.0 780.8 1164.0 C 780.2 1159.0 778.3 1154.2 777.1 1153.9 C 775.9 1153.6 774.2 1157.0 773.6 1162.0 C 773.0 1167.0 773.0 1174.6 773.4 1184.0 C 773.8 1193.4 775.2 1205.0 776.3 1218.4 C 777.4 1231.8 778.0 1250.3 779.8 1264.2 C 781.6 1278.1 784.3 1290.5 787.1 1302.0 C 789.9 1313.5 793.9 1325.7 796.5 1333.4 C 799.1 1341.1 801.8 1345.6 802.8 1348.0" stroke="#050505" stroke-width="4.5" fill="none" stroke-linejoin="round" stroke-linecap="round"/>
<path d="M 703.7 1200.0 C 704.5 1196.7 707.5 1186.7 708.3 1180.0 C 709.1 1173.3 709.1 1165.0 708.6 1160.0 C 708.1 1155.0 706.5 1150.1 705.3 1149.8 C 704.1 1149.5 702.3 1153.0 701.6 1158.0 C 700.9 1163.0 700.9 1173.0 701.2 1180.0 C 701.6 1187.0 703.3 1196.7 703.7 1200.0" fill="#050505" stroke="none"/>
<path d="M 776.3 1204.0 C 777.0 1200.7 779.9 1190.7 780.6 1184.0 C 781.4 1177.3 781.4 1169.0 780.8 1164.0 C 780.2 1159.0 778.3 1154.2 777.1 1153.9 C 775.9 1153.6 774.2 1157.0 773.6 1162.0 C 773.0 1167.0 773.0 1177.0 773.4 1184.0 C 773.8 1191.0 775.8 1200.7 776.3 1204.0" fill="#050505" stroke="none"/>
<polygon points="736.2,1365 731.6,1348 740.8,1348" fill="#050505"/>
<line x1="705.0" y1="1168.0" x2="704.3" y2="1195.0" stroke="#e8e8e8" stroke-width="1.3" stroke-linecap="butt"/>
<line x1="777.0" y1="1174.0" x2="776.7" y2="1196.0" stroke="#e8e8e8" stroke-width="1.2" stroke-linecap="butt"/>
<line x1="637.6" y1="1101.5" x2="691.4" y2="1163.7" stroke="#050505" stroke-width="2.8"/>
<polygon points="698.9,1172.4 686.2,1166.9 695.3,1159.0" fill="#050505"/>
<line x1="898.7" y1="1119.1" x2="930.8" y2="1183.6" stroke="#050505" stroke-width="2.8"/>
<polygon points="936.4,1194.8 925.0,1185.4 935.8,1180.0" fill="#050505"/>
<text transform="translate(609.0,1305.5) rotate(-90)" font-family='"Liberation Sans", sans-serif' font-size="24" font-weight="bold" font-style="normal" fill="#050505" >B</text>
<text transform="translate(862.8,1296.0) rotate(-90)" font-family='"Liberation Sans", sans-serif' font-size="24" font-weight="bold" font-style="normal" fill="#050505" >A</text>
<g transform="translate(624.5,1384.0) rotate(-90)"><text font-family='"Liberation Sans", sans-serif' font-size="36" font-weight="bold" fill="#7a8b8a">2</text><rect x="0" y="3.9" width="20.0" height="2.6" fill="#7a8b8a"/></g>
<g transform="translate(761.7,1097.9) rotate(-90)"><text font-family='"Liberation Sans", sans-serif' font-size="36" font-weight="bold" fill="#94a5a2">0</text><rect x="0" y="3.7" width="20.0" height="2.6" fill="#94a5a2"/></g>
<g transform="translate(877.0,1186.5) rotate(-90)"><text font-family='"Liberation Sans", sans-serif' font-size="36" font-weight="bold" fill="#414c4c">1</text><rect x="0" y="3.5" width="20.0" height="2.6" fill="#414c4c"/></g>
<g transform="translate(969.0,1152.9) rotate(-90)"><text font-family='"Liberation Sans", sans-serif' font-size="36" font-weight="bold" fill="#808d8c" transform="scale(1,1.07)">V</text><rect x="0" y="1.7" width="26.4" height="2.6" fill="#808d8c"/></g>
<g transform="translate(941.9,1310.3) rotate(-90)"><text font-family='"Liberation Sans", sans-serif' font-size="36" font-weight="bold" fill="#94a5a2">R</text><rect x="0" y="3.9" width="26.0" height="2.6" fill="#94a5a2"/></g>
<g transform="translate(809.0,1467.7) rotate(-90)"><text font-family='"Liberation Sans", sans-serif' font-size="36" font-weight="bold" fill="#94a5a2">R’</text><rect x="0" y="3.9" width="36.0" height="2.6" fill="#94a5a2"/></g>
<g transform="translate(905.2,1241.2) rotate(-90)"><text font-family='"Liberation Serif", serif' font-size="35" font-weight="normal" font-style="italic" fill="#050505" stroke="#050505" stroke-width="0.9" stroke-linejoin="round">z</text><text x="17.7" y="7.8" font-family='"Liberation Serif", serif' font-size="19.5" fill="#050505">0</text><line x1="0.0" y1="-33.5" x2="26.6" y2="-33.5" stroke="#050505" stroke-width="1.8"/><polygon points="29.6,-33.5 23.4,-36.5 25.0,-33.5 23.4,-30.5" fill="#050505"/></g>
<text transform="translate(498.6,825.7) rotate(-90)" font-family='"Liberation Sans", sans-serif' font-size="28.3" font-weight="normal" font-style="normal" fill="#050505" textLength="144.6" lengthAdjust="spacingAndGlyphs" >perspective</text>
<text transform="translate(532.4,824.3) rotate(-90)" font-family='"Liberation Sans", sans-serif' font-size="28.3" font-weight="normal" font-style="normal" fill="#050505" textLength="141.6" lengthAdjust="spacingAndGlyphs" >ressort non</text>
<text transform="translate(566.4,820.1) rotate(-90)" font-family='"Liberation Sans", sans-serif' font-size="28.3" font-weight="normal" font-style="normal" fill="#050505" textLength="136.1" lengthAdjust="spacingAndGlyphs" >représenté</text>
<text transform="translate(886.5,328.8) rotate(-90)" font-family='"Liberation Sans", sans-serif' font-size="28.3" font-weight="normal" font-style="normal" fill="#050505" textLength="89.4" lengthAdjust="spacingAndGlyphs" >moteur</text>
<text transform="translate(628.0,1085.0) rotate(-90)" font-family='"Liberation Sans", sans-serif' font-size="28.3" font-weight="normal" font-style="normal" fill="#050505" textLength="99.1" lengthAdjust="spacingAndGlyphs" >Ressort</text>
<text transform="translate(663.3,1098.9) rotate(-90)" font-family='"Liberation Sans", sans-serif' font-size="28.3" font-weight="normal" font-style="normal" fill="#050505" textLength="125.5" lengthAdjust="spacingAndGlyphs" >de torsion</text>
<text transform="translate(898.8,1114.4) rotate(-90)" font-family='"Liberation Sans", sans-serif' font-size="28.3" font-weight="normal" font-style="normal" fill="#050505" textLength="188.0" lengthAdjust="spacingAndGlyphs" >Vis axe moteur</text>
<text transform="translate(1030.6,1382.5) rotate(-90)" font-family='"Liberation Sans", sans-serif' font-size="28.3" font-weight="normal" font-style="normal" fill="#050505" textLength="387.8" lengthAdjust="spacingAndGlyphs" >Système roue – vis irréversible</text>
</g>
</svg></body></html>
